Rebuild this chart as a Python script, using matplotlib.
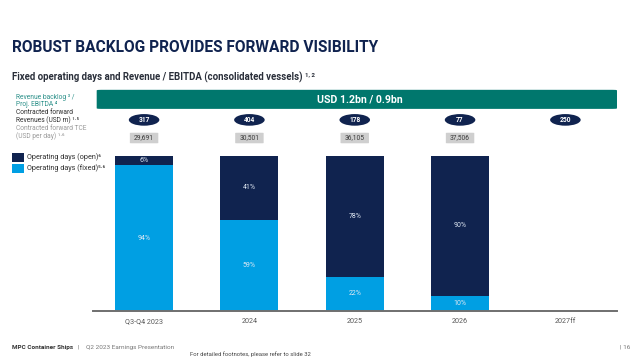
import matplotlib
matplotlib.use("Agg")
import matplotlib.pyplot as plt
from matplotlib.patches import Ellipse, FancyBboxPatch, Rectangle

# data
periods = ["Q3-Q4 2023", "2024", "2025", "2026", "2027ff"]
fixed_pct = [94, 59, 22, 10, 0]
open_pct = [6, 41, 78, 90, 0]
revenues = [317, 404, 178, 77, 250]          # contracted forward revenues (USD m)
tce = ["29,691", "30,501", "36,105", "37,506", None]  # USD per day
banner_text = "USD 1.2bn / 0.9bn"

NAVY = "#10234f"
BLUE = "#009fe3"
TEAL = "#00776d"
GREY = "#5a5a5a"

plt.rcParams["font.family"] = ["Roboto", "DejaVu Sans"]

fig = plt.figure(figsize=(6.4, 3.58), dpi=100)
W, H = 640, 358
ax = fig.add_axes([93 / W, (H - 311) / H, 524 / W, 155 / H])
x = list(range(len(periods)))
ax.bar(x, fixed_pct, width=0.55, color=BLUE)
ax.bar(x, open_pct, width=0.55, bottom=fixed_pct, color=NAVY)
ax.set_xlim(-0.485, 4.49)
ax.set_ylim(0, 100)
for s in ["top", "right", "left"]:
    ax.spines[s].set_visible(False)
ax.spines["bottom"].set_color("#6f6f6f")
ax.spines["bottom"].set_linewidth(1.4)
ax.set_yticks([])
ax.set_xticks(x)
ax.set_xticklabels(periods, fontsize=5.2, color=GREY)
ax.tick_params(axis="x", length=0, pad=5)

# percentage labels
for i, (f, o) in enumerate(zip(fixed_pct, open_pct)):
    if f:
        ax.text(i, f / 2, f"{f}%", ha="center", va="center", fontsize=5, color="#dfe8f3")
    if o:
        ax.text(i, f + o / 2, f"{o}%", ha="center", va="center", fontsize=5, color="#dfe8f3")

# banner, revenue badges, TCE boxes above the plot
ax.add_patch(FancyBboxPatch((-0.45, 130.4), 4.94, 12.3,
                            boxstyle="round,pad=0,rounding_size=0.04",
                            mutation_aspect=8, fc=TEAL, ec="none", clip_on=False))
ax.text(2.05, 136.5, banner_text, ha="center", va="center", fontsize=7.6,
        color="white", fontweight="bold")
for i, r in enumerate(revenues):
    ax.add_patch(Ellipse((i, 123.3), 0.29, 7.5, fc=NAVY, ec="none", clip_on=False))
    ax.text(i, 123.3, str(r), ha="center", va="center", fontsize=4.8,
            color="white", fontweight="bold")
for i, t in enumerate(tce):
    if t is None:
        continue
    ax.add_patch(FancyBboxPatch((i - 0.135, 108.2), 0.27, 6.8,
                                boxstyle="round,pad=0,rounding_size=0.02",
                                mutation_aspect=8, fc="#cfcfcf", ec="none", clip_on=False))
    ax.text(i, 111.6, t, ha="center", va="center", fontsize=4.8, color="#3a3a3a")

# titles
fig.text(12 / W, 1 - 47 / H, "ROBUST BACKLOG PROVIDES FORWARD VISIBILITY",
         fontsize=11.2, fontweight="bold", color=NAVY, va="center")
fig.text(12 / W, 1 - 77 / H, "Fixed operating days and Revenue / EBITDA (consolidated vessels)",
         fontsize=6.9, fontweight="bold", color="#2a2f3a", va="center")
fig.text(305 / W, 1 - 74.5 / H, "1, 2", fontsize=4.3, fontweight="bold", color="#2a2f3a",
         va="center")

# left row labels
fig.text(16 / W, 1 - 101 / H, "Revenue backlog ³ /\nProj. EBITDA ⁴", fontsize=4.8,
         color="#2a8f88", va="center", linespacing=1.1)
fig.text(16 / W, 1 - 116.5 / H, "Contracted forward\nRevenues (USD m) ¹·⁵", fontsize=4.8,
         color="#2f2f2f", va="center", linespacing=1.1)
fig.text(16 / W, 1 - 132.5 / H, "Contracted forward TCE\n(USD per day) ¹·⁶", fontsize=4.8,
         color="#9a9a9a", va="center", linespacing=1.1)

# legend
for yy, col, lab in [(157, NAVY, "Operating days (open)⁶"),
                     (168, BLUE, "Operating days (fixed)⁵·⁶")]:
    fig.patches.append(Rectangle((12 / W, 1 - (yy + 4.5) / H), 12 / W, 9 / H,
                                 transform=fig.transFigure, fc=col, ec="none"))
    fig.text(27 / W, 1 - yy / H, lab, fontsize=5.2, color="#2f2f2f", va="center")

# footer
fig.text(12 / W, 1 - 347 / H, "MPC Container Ships", fontsize=4.6, fontweight="bold",
         color="#333333", va="center")
fig.text(78 / W, 1 - 347 / H, "|    Q2 2023 Earnings Presentation", fontsize=4.6,
         color="#777777", va="center")
fig.text(190 / W, 1 - 354 / H, "For detailed footnotes, please refer to slide 32",
         fontsize=4.2, color="#444444", va="center")
fig.text(620 / W, 1 - 347 / H, "| 16", fontsize=4.6, color="#777777", va="center")

fig.savefig("out.png", dpi=100)
